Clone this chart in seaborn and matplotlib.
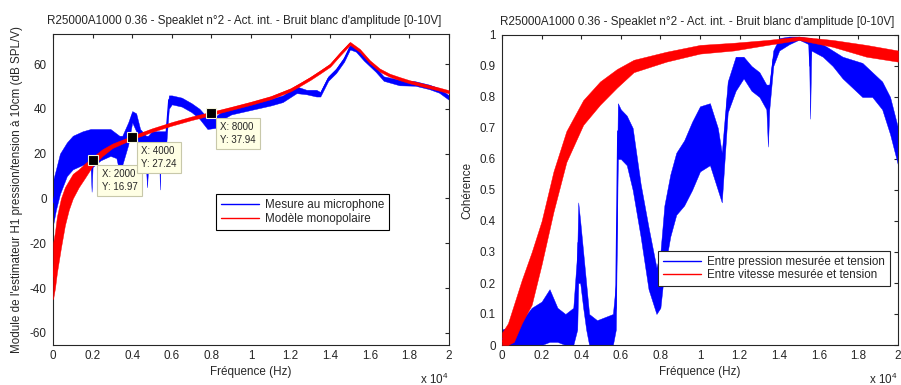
import numpy as np
import pandas as pd
import matplotlib
matplotlib.use("Agg")
import matplotlib.pyplot as plt
import seaborn as sns

# ---------------- data ----------------
title_txt = "R25000A1000 0.36 - Speaklet n°2 - Act. int. - Bruit blanc d'amplitude [0-10V]"

x_ticks = [0, 2000, 4000, 6000, 8000, 10000, 12000, 14000, 16000, 18000, 20000]
x_tick_labels = ["0", "0.2", "0.4", "0.6", "0.8", "1", "1.2", "1.4", "1.6", "1.8", "2"]
left_y_ticks = [-60, -40, -20, 0, 20, 40, 60]
left_y_labels = ["-60", "-40", "-20", "0", "20", "40", "60"]
right_y_ticks = [0, 0.1, 0.2, 0.3, 0.4, 0.5, 0.6, 0.7, 0.8, 0.9, 1]
right_y_labels = ["0", "0.1", "0.2", "0.3", "0.4", "0.5", "0.6", "0.7", "0.8", "0.9", "1"]

# Left: measured transfer function (blue)
lb_f = [0, 150, 350, 700, 1000, 1500, 1900, 1950, 2000, 2400, 2900, 3200, 3350, 3500, 3800, 4000,
        4200, 4400, 4700, 4750, 4800, 5000, 5350, 5400, 5450, 5700, 5850, 6000, 6500, 7000, 7400,
        7800, 8200, 8600, 9000, 10000, 11000, 11600, 12300, 12800, 13300, 13500, 13900, 14300,
        14700, 15000, 15300, 15700, 16000, 16300, 16700, 17500, 18300, 19000, 19500, 20000]
lb_mid = [-2, 4, 11, 18, 20, 22, 23, 22, 23, 24, 25, 23, 20, 22, 30, 37,
          35, 26, 22, 18, 22, 26, 27, 20, 27, 27, 44, 44.5, 43, 40.5, 38,
          33.5, 34, 37.5, 39, 41, 43, 44.5, 48.5, 47.5, 47, 46.5, 53.5, 57,
          62, 67.5, 66.5, 62.5, 60, 57.5, 53.5, 51.8, 51.3, 49.8, 48.2, 45]
lb_lo = [-12, -5, 2, 10, 13, 15, 14, 3, 14, 17, 19, 18, 12, 15, 24, 34,
         30, 19, 13, 5, 13, 21, 22, 4, 22, 22, 40, 42, 41, 38.5, 35.5,
         31, 31.5, 35.5, 37.5, 39.5, 41.5, 43, 47, 46.5, 45.5, 45.5, 52.5, 56,
         61, 66.5, 65.5, 61.5, 59, 56.5, 52.5, 50.5, 50.3, 48.8, 47.2, 44]
lb_hi = [8, 13, 20, 25, 28, 30, 31, 31, 31, 31, 31, 29, 28, 28, 34, 39,
         38, 31, 28, 28, 28, 30, 30, 30, 30, 30, 46, 46, 45, 42.5, 40,
         36, 36.5, 39.5, 40.5, 42.5, 44.5, 46, 50, 48.5, 48.5, 47.5, 54.5, 58,
         63, 68.5, 67.5, 63.5, 61, 58.5, 54.5, 53, 52.3, 50.8, 49.2, 46]

# Left: monopole model (red)
lr_f = [0, 100, 200, 400, 600, 800, 1000, 1300, 1600, 2000, 2500, 3000, 4000, 5000, 6000, 7000,
        8000, 9000, 10000, 11000, 12000, 12500, 13000, 13500, 14000, 14500, 15000, 15500, 16000,
        16500, 17000, 17500, 18000, 18500, 19000, 19500, 20000]
lr_mid = [-35, -28, -20, -10, -3, 2, 6, 10, 13, 16.97, 20.5, 23.5, 27.24, 30.5, 33.3, 35.8,
          37.94, 40.2, 42.5, 45, 48.5, 51, 53.6, 56.5, 59.5, 64.5, 69.2, 66, 61,
          57.3, 55, 53.5, 52.1, 51, 49.9, 48.8, 47.6]
lr_lo = [-45, -40, -33, -22, -12, -5, 0, 5, 9, 14.5, 19, 22.5, 26.4, 29.7, 32.5, 35,
         37.2, 39.5, 41.8, 44.3, 47.8, 50.3, 52.9, 55.8, 58.8, 63.8, 68.5, 65.3, 60.3,
         56.6, 54.3, 52.8, 51.4, 50.3, 49.2, 48.1, 46.9]
lr_hi = [-20, -15, -8, 0, 5, 8, 11, 13, 15.5, 18.5, 22, 24.5, 28, 31.3, 34.1, 36.6,
         38.7, 40.9, 43.2, 45.7, 49.2, 51.7, 54.3, 57.2, 60.2, 65.2, 69.9, 66.7, 61.7,
         58, 55.7, 54.2, 52.8, 51.7, 50.6, 49.5, 48.3]

# Data tips
tip_x = [2000, 4000, 8000]
tip_y = [16.97, 27.24, 37.94]

# Right: coherence pressure/voltage (blue)
rb_f = [0, 500, 1000, 1500, 2000, 2400, 2800, 3200, 3600, 3800, 3850, 3950, 4100, 4250, 4400,
        4800, 5200, 5600, 5750, 5850, 6000, 6300, 6600, 7000, 7400, 7800, 8000, 8200, 8500,
        8800, 9200, 9600, 10000, 10500, 10900, 11100, 11400, 11800, 12200, 12600, 13000,
        13350, 13430, 13500, 13700, 14000, 14500, 15000, 15500, 15560, 15620, 16200, 16700,
        17200, 17700, 18200, 18700, 19200, 19600, 20000]
rb_mid = [0.02, 0.03, 0.04, 0.06, 0.07, 0.09, 0.06, 0.05, 0.06, 0.17, 0.33, 0.3, 0.21, 0.12, 0.05,
          0.04, 0.04, 0.05, 0.12, 0.69, 0.68, 0.66, 0.6, 0.43, 0.28, 0.17, 0.21, 0.34, 0.45,
          0.52, 0.55, 0.61, 0.66, 0.68, 0.6, 0.54, 0.8, 0.87, 0.9, 0.86, 0.84,
          0.8, 0.77, 0.8, 0.92, 0.97, 0.982, 0.99, 0.98, 0.9, 0.97, 0.95, 0.925,
          0.895, 0.875, 0.855, 0.84, 0.805, 0.74, 0.64]
rb_lo = [0, 0, 0, 0, 0, 0.01, 0.01, 0, 0, 0.05, 0.2, 0.2, 0.12, 0.05, 0,
         0, 0, 0, 0.05, 0.6, 0.6, 0.58, 0.5, 0.35, 0.18, 0.1, 0.12, 0.24, 0.35,
         0.42, 0.45, 0.5, 0.56, 0.58, 0.5, 0.46, 0.75, 0.82, 0.86, 0.82, 0.8,
         0.76, 0.64, 0.76, 0.9, 0.95, 0.97, 0.985, 0.97, 0.73, 0.95, 0.93, 0.9,
         0.86, 0.83, 0.8, 0.8, 0.76, 0.68, 0.58]
rb_hi = [0.05, 0.06, 0.08, 0.12, 0.14, 0.18, 0.12, 0.1, 0.12, 0.3, 0.46, 0.4, 0.3, 0.2, 0.1,
         0.08, 0.09, 0.1, 0.2, 0.78, 0.76, 0.74, 0.7, 0.52, 0.38, 0.25, 0.3, 0.45, 0.55,
         0.62, 0.66, 0.72, 0.77, 0.78, 0.7, 0.62, 0.85, 0.93, 0.93, 0.9, 0.88,
         0.84, 0.84, 0.84, 0.95, 0.99, 0.995, 0.995, 0.99, 0.99, 0.99, 0.97, 0.95,
         0.93, 0.92, 0.91, 0.88, 0.85, 0.8, 0.7]

# Right: coherence velocity/voltage (red)
rr_f = [0, 300, 600, 1000, 1500, 2000, 2600, 3250, 4100, 4950, 5800, 6650, 8300, 10000,
        11700, 13400, 15000, 16700, 18400, 20000]
rr_mid = [0.01, 0.03, 0.07, 0.14, 0.22, 0.33, 0.5, 0.64, 0.75, 0.815, 0.86, 0.9, 0.93, 0.955,
          0.963, 0.976, 0.99, 0.973, 0.95, 0.932]
rr_lo = [0, 0, 0.01, 0.07, 0.13, 0.26, 0.43, 0.59, 0.71, 0.775, 0.83, 0.88, 0.914, 0.94,
         0.95, 0.968, 0.984, 0.962, 0.93, 0.914]
rr_hi = [0.04, 0.07, 0.13, 0.21, 0.3, 0.4, 0.56, 0.69, 0.79, 0.85, 0.89, 0.92, 0.946, 0.968,
         0.975, 0.984, 0.995, 0.984, 0.968, 0.95]

# ---------------- styling ----------------
sns.set_style("white")
plt.rcParams["font.family"] = ["Liberation Sans", "DejaVu Sans"]
plt.rcParams["mathtext.fontset"] = "custom"
plt.rcParams["mathtext.rm"] = "Liberation Sans"
plt.rcParams["mathtext.it"] = "Liberation Sans"
TXT = "#262626"
FS = 8.4

W, H = 901, 385
fig = plt.figure(figsize=(W / 100, H / 100), dpi=100)
fig.patch.set_facecolor("white")
axL = fig.add_axes([53 / W, 1 - 345 / H, 396 / W, 311 / H])
axR = fig.add_axes([502 / W, 1 - 345 / H, 396 / W, 310 / H])


def style_axes(ax, title_x):
    for s in ax.spines.values():
        s.set_visible(True)
        s.set_color(TXT)
        s.set_linewidth(0.8)
    ax.tick_params(axis="both", which="both", direction="in", length=3.2, width=0.8,
                   colors=TXT, labelsize=FS, top=True, right=True,
                   labelcolor=TXT)
    ax.tick_params(axis="x", pad=3.5)
    ax.tick_params(axis="y", pad=4.5)
    ax.set_xlim(0, 20000)
    ax.set_xticks(x_ticks)
    ax.set_xticklabels(x_tick_labels)
    ax.set_title(title_txt, fontsize=FS, color=TXT, pad=7.5, x=title_x)
    ax.set_xlabel("Fréquence (Hz)", fontsize=FS, color=TXT)
    ax.xaxis.set_label_coords(0.5, -0.068)
    ax.grid(False)


# ---- left plot ----
dfLb = pd.DataFrame({"f": lb_f, "v": lb_mid, "lo": lb_lo, "hi": lb_hi})
dfLr = pd.DataFrame({"f": lr_f, "v": lr_mid, "lo": lr_lo, "hi": lr_hi})
axL.fill_between(dfLb["f"], dfLb["lo"], dfLb["hi"], color="#0000ff", lw=0.3, zorder=2)
sns.lineplot(data=dfLb, x="f", y="v", ax=axL, color="#0000ff", lw=1.0,
             label="Mesure au microphone", zorder=3)
axL.fill_between(dfLr["f"], dfLr["lo"], dfLr["hi"], color="#ff0000", lw=0.3, zorder=4)
sns.lineplot(data=dfLr, x="f", y="v", ax=axL, color="#ff0000", lw=1.0,
             label="Modèle monopolaire", zorder=5)
style_axes(axL, 0.484)
axL.set_ylim(-65.4, 73.4)
axL.set_yticks(left_y_ticks)
axL.set_yticklabels(left_y_labels)
axL.set_ylabel("Module de l'estimateur H1 pression/tension à 10cm (dB SPL/V)",
               fontsize=FS, color=TXT)
axL.yaxis.set_label_coords(-0.075, 0.5)

for xv, yv in zip(tip_x, tip_y):
    axL.plot([xv], [yv], marker="s", ms=6.5, mfc="black", mec="#f5f5dc", mew=0.8,
             ls="none", zorder=8)
    axL.annotate(f"X: {xv}\nY: {yv:.2f}", xy=(xv, yv), xytext=(6.5, -6.3),
                 textcoords="offset points", ha="left", va="top", fontsize=7,
                 color=TXT, linespacing=1.35, zorder=9,
                 bbox=dict(boxstyle="square,pad=0.45", fc="#ffffe4", ec="#c8c8aa", lw=0.8))

legL = axL.legend(loc="upper left", bbox_to_anchor=(0.412, 0.484), fontsize=FS,
                  frameon=True, fancybox=False, framealpha=1, edgecolor="black",
                  handlelength=3.3, handletextpad=0.5, borderpad=0.4, labelspacing=0.15,
                  borderaxespad=0)
legL.get_frame().set_linewidth(0.8)
for t in legL.get_texts():
    t.set_color(TXT)

# ---- right plot ----
dfRb = pd.DataFrame({"f": rb_f, "v": rb_mid, "lo": rb_lo, "hi": rb_hi})
dfRr = pd.DataFrame({"f": rr_f, "v": rr_mid, "lo": rr_lo, "hi": rr_hi})
axR.fill_between(dfRb["f"], dfRb["lo"], dfRb["hi"], color="#0000ff", lw=0.3, zorder=2)
sns.lineplot(data=dfRb, x="f", y="v", ax=axR, color="#0000ff", lw=1.0,
             label="Entre pression mesurée et tension", zorder=3)
axR.fill_between(dfRr["f"], dfRr["lo"], dfRr["hi"], color="#ff0000", lw=0.3, zorder=4)
sns.lineplot(data=dfRr, x="f", y="v", ax=axR, color="#ff0000", lw=1.0,
             label="Entre vitesse mesurée et tension", zorder=5)
style_axes(axR, 0.494)
axR.set_ylim(0, 1)
axR.set_yticks(right_y_ticks)
axR.set_yticklabels(right_y_labels)
axR.set_ylabel("Cohérence", fontsize=FS, color=TXT)
axR.yaxis.set_label_coords(-0.072, 0.5)

legR = axR.legend(loc="upper left", bbox_to_anchor=(0.394, 0.303), fontsize=FS,
                  frameon=True, fancybox=False, framealpha=1, edgecolor=TXT,
                  handlelength=3.3, handletextpad=0.5, borderpad=0.4, labelspacing=0.15,
                  borderaxespad=0)
legR.get_frame().set_linewidth(0.8)
for t in legR.get_texts():
    t.set_color(TXT)

# x 10^4 multipliers
fig.text(448 / W, 1 - 379 / H, r"x 10$^{4}$", ha="right", va="center", fontsize=FS, color=TXT)
fig.text(897 / W, 1 - 379 / H, r"x 10$^{4}$", ha="right", va="center", fontsize=FS, color=TXT)

fig.savefig("out.png", dpi=100, facecolor="white")
